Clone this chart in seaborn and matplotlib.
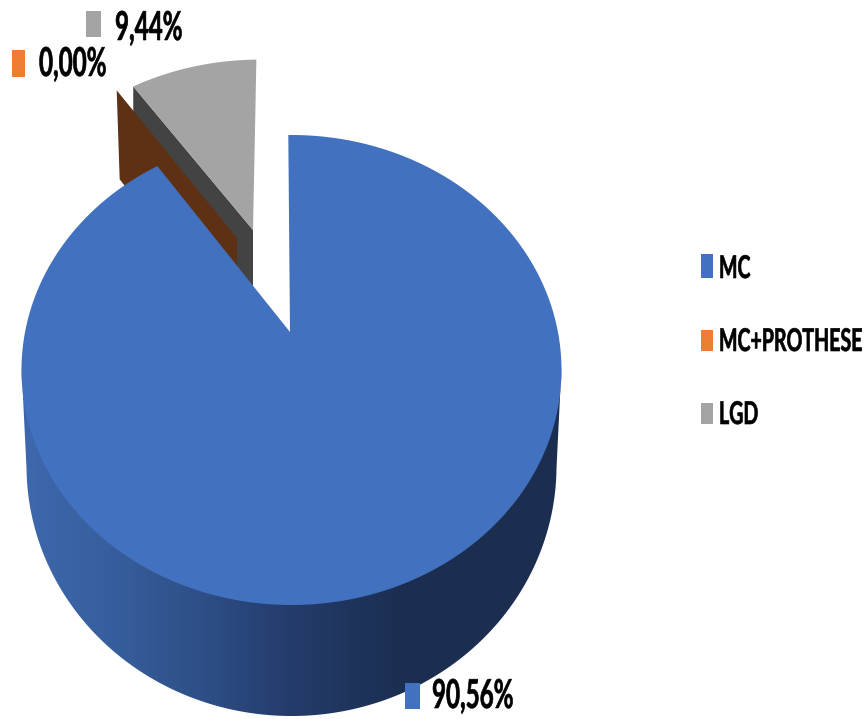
# 3D style pie chart, seaborn theme and plain matplotlib polygons
import numpy as np
import matplotlib
matplotlib.use('Agg')
import matplotlib.pyplot as plt
from matplotlib.colors import LinearSegmentedColormap
from matplotlib.patches import Polygon, Rectangle
from matplotlib.patheffects import AbstractPathEffect
from matplotlib.transforms import Affine2D
import seaborn as sns

# Data
categories = ['MC', 'MC+PROTHESE', 'LGD']
values = [90.56, 0.00, 9.44]
value_labels = ['90,56%', '0,00%', '9,44%']

colors = sns.color_palette(['#4271BF', '#ED7D31', '#A4A4A4'])
dark_orange = '#5E3114'
dark_grey = '#434343'

sns.set_theme(style='white')
plt.rcParams['font.family'] = ['Lato', 'DejaVu Sans']


# The source picture has its text stretched vertically
class StretchY(AbstractPathEffect):
    def __init__(self, sy, stroke=0.45):
        super().__init__()
        self.sy = sy
        self.stroke = stroke

    def draw_path(self, renderer, gc, tpath, affine, rgbFace=None):
        gc0 = renderer.new_gc()
        gc0.copy_properties(gc)
        gc0.set_linewidth(self.stroke)
        gc0.set_foreground('black')
        renderer.draw_path(gc0, tpath, Affine2D().scale(1, self.sy) + affine, rgbFace)
        gc0.restore()


# Circle seen in perspective: its centre sits above the middle of the ellipse
def disc_point(phi, cx, cy, rx, ry, lift=38):
    k = lift / ry
    a = rx * np.sqrt(1 - k ** 2)
    t = np.radians(phi)
    w = 1 + k * np.cos(t)
    return cx + a * np.sin(t) / w, cy - (ry * np.cos(t) + lift) / w


TOP = (291.5, 370, 270, 235)
WALL_TOP = (291.5, 366, 270, 235)  # tucked under the face so no gap shows
BOTTOM = (291.5, 466, 265, 250)
apex_x, apex_y = 291, 332


# Slice pulled away from the main one
def pulled(phi, ox, oy, sx, sy, shear=0.0):
    px, py = disc_point(phi, *TOP)
    dx, dy = px - apex_x, py - apex_y
    return ox + sx * dx + shear * dy, oy + sy * dy


start = -0.8
angles = np.cumsum([0] + values) * 3.6 + start

fig = plt.figure(figsize=(8.67, 7.19), dpi=100)
ax = fig.add_axes([0, 0, 1, 1])

# Outer wall of the big slice, horizontal gradient clipped to its outline
wall_stops = [(0.0, '#3E68AE'), (0.146, '#38609F'), (0.331, '#2E4F88'),
              (0.497, '#243C6B'), (0.700, '#1B2F52'), (1.0, '#1B2E50')]
wall_cmap = LinearSegmentedColormap.from_list('wall', wall_stops)
edge = np.degrees(np.arcsin(38 / 235))
steps = np.linspace(90 + edge, 270 - edge, 360)
tx, ty = disc_point(steps, *WALL_TOP)
bx, by = disc_point(steps[::-1], *BOTTOM)
outline = Polygon(np.c_[np.r_[tx, bx], np.r_[ty, by]], closed=True, transform=ax.transData,
                  fc='none', lw=0)
ax.add_patch(outline)
wall = ax.imshow(np.linspace(0, 1, 541)[None, :], cmap=wall_cmap, aspect='auto',
                 extent=(21, 562, 719, 300), interpolation='bilinear')
wall.set_clip_path(outline)

# LGD slice: inner wall and top face
gx, gy = pulled(angles[2], 253, 230, 0.933, 0.865, -0.03)
ax.fill([gx, gx, 253, 253], [gy, gy + 95, 325, 230], color=dark_grey, lw=0)
arc = np.linspace(angles[2], angles[3], 60)
arc_pts = [pulled(p, 253, 230, 0.933, 0.865, -0.03) for p in arc]
ax.fill([253] + [p[0] for p in arc_pts], [230] + [p[1] for p in arc_pts], color=colors[2], lw=0)

# MC+PROTHESE slice is empty, only its wall shows
ox, oy = pulled(angles[1], 237, 238, 0.90, 0.89)
ax.fill([ox, ox + 3, 237, 237], [oy, oy + 89, 330, 238], color=dark_orange, lw=0)

# MC slice top face
arc = np.linspace(angles[0], angles[1], 400)
px, py = disc_point(arc, *TOP)
ax.fill(np.r_[apex_x - 1, px], np.r_[apex_y, py], color=colors[0], lw=0)

# Data labels
label_style = dict(color='black', fontweight='bold', va='baseline', ha='left')
label_pos = [(432, 708), (39, 76), (115, 40)]
label_box = [(405, 683, 15, 26), (12, 50, 13, 27), (86, 11, 15, 26)]
for i in range(3):
    bx0, by0, bw, bh = label_box[i]
    ax.add_patch(Rectangle((bx0, by0), bw, bh, color=colors[i], lw=0))
    ax.text(label_pos[i][0], label_pos[i][1], value_labels[i], fontsize=17.4,
            path_effects=[StretchY(1.65)], **label_style)

# Legend
legend_box = [(701, 254, 12, 24), (701, 330, 12, 21), (701, 403, 12, 21)]
legend_pos = [(719, 278), (719, 351), (719, 424)]
for i in range(3):
    bx0, by0, bw, bh = legend_box[i]
    ax.add_patch(Rectangle((bx0, by0), bw, bh, color=colors[i], lw=0))
    ax.text(legend_pos[i][0], legend_pos[i][1], categories[i], fontsize=14.1,
            path_effects=[StretchY(1.6)], **label_style)

ax.set_xlim(0, 867)
ax.set_ylim(719, 0)
ax.axis('off')

fig.savefig('out.png', dpi=100)
